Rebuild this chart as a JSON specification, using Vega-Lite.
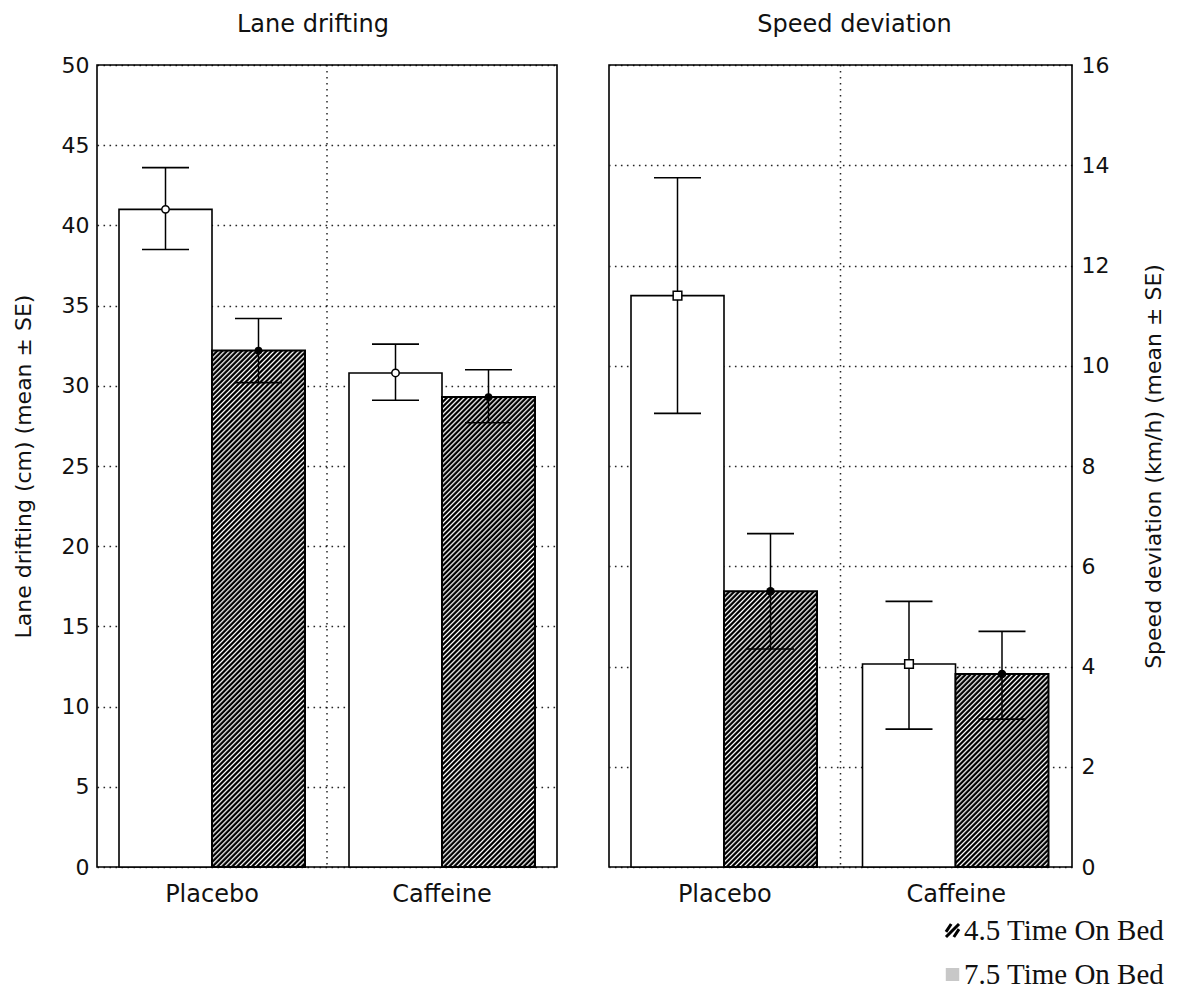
{
  "$schema": "https://vega.github.io/schema/vega-lite/v6.json",
  "background": "white",
  "padding": {"left": 11, "top": 12, "right": 0, "bottom": 0},
  "params": [
    {
      "name": "hatch",
      "value": [
        {"offset":0,"color":"#000"},{"offset":0.0024,"color":"#000"},{"offset":0.0048,"color":"#fff"},{"offset":0.008,"color":"#000"},{"offset":0.0104,"color":"#000"},{"offset":0.0128,"color":"#fff"},{"offset":0.016,"color":"#000"},{"offset":0.0184,"color":"#000"},{"offset":0.0208,"color":"#fff"},{"offset":0.024,"color":"#000"},{"offset":0.0264,"color":"#000"},{"offset":0.0288,"color":"#fff"},{"offset":0.032,"color":"#000"},{"offset":0.0344,"color":"#000"},{"offset":0.0368,"color":"#fff"},
        {"offset":0.04,"color":"#000"},{"offset":0.0424,"color":"#000"},{"offset":0.0448,"color":"#fff"},{"offset":0.048,"color":"#000"},{"offset":0.0504,"color":"#000"},{"offset":0.0528,"color":"#fff"},{"offset":0.056,"color":"#000"},{"offset":0.0584,"color":"#000"},{"offset":0.0608,"color":"#fff"},{"offset":0.064,"color":"#000"},{"offset":0.0664,"color":"#000"},{"offset":0.0688,"color":"#fff"},{"offset":0.072,"color":"#000"},{"offset":0.0744,"color":"#000"},{"offset":0.0768,"color":"#fff"},
        {"offset":0.08,"color":"#000"},{"offset":0.0824,"color":"#000"},{"offset":0.0848,"color":"#fff"},{"offset":0.088,"color":"#000"},{"offset":0.0904,"color":"#000"},{"offset":0.0928,"color":"#fff"},{"offset":0.096,"color":"#000"},{"offset":0.0984,"color":"#000"},{"offset":0.1008,"color":"#fff"},{"offset":0.104,"color":"#000"},{"offset":0.1064,"color":"#000"},{"offset":0.1088,"color":"#fff"},{"offset":0.112,"color":"#000"},{"offset":0.1144,"color":"#000"},{"offset":0.1168,"color":"#fff"},
        {"offset":0.12,"color":"#000"},{"offset":0.1224,"color":"#000"},{"offset":0.1248,"color":"#fff"},{"offset":0.128,"color":"#000"},{"offset":0.1304,"color":"#000"},{"offset":0.1328,"color":"#fff"},{"offset":0.136,"color":"#000"},{"offset":0.1384,"color":"#000"},{"offset":0.1408,"color":"#fff"},{"offset":0.144,"color":"#000"},{"offset":0.1464,"color":"#000"},{"offset":0.1488,"color":"#fff"},{"offset":0.152,"color":"#000"},{"offset":0.1544,"color":"#000"},{"offset":0.1568,"color":"#fff"},
        {"offset":0.16,"color":"#000"},{"offset":0.1624,"color":"#000"},{"offset":0.1648,"color":"#fff"},{"offset":0.168,"color":"#000"},{"offset":0.1704,"color":"#000"},{"offset":0.1728,"color":"#fff"},{"offset":0.176,"color":"#000"},{"offset":0.1784,"color":"#000"},{"offset":0.1808,"color":"#fff"},{"offset":0.184,"color":"#000"},{"offset":0.1864,"color":"#000"},{"offset":0.1888,"color":"#fff"},{"offset":0.192,"color":"#000"},{"offset":0.1944,"color":"#000"},{"offset":0.1968,"color":"#fff"},
        {"offset":0.2,"color":"#000"},{"offset":0.2024,"color":"#000"},{"offset":0.2048,"color":"#fff"},{"offset":0.208,"color":"#000"},{"offset":0.2104,"color":"#000"},{"offset":0.2128,"color":"#fff"},{"offset":0.216,"color":"#000"},{"offset":0.2184,"color":"#000"},{"offset":0.2208,"color":"#fff"},{"offset":0.224,"color":"#000"},{"offset":0.2264,"color":"#000"},{"offset":0.2288,"color":"#fff"},{"offset":0.232,"color":"#000"},{"offset":0.2344,"color":"#000"},{"offset":0.2368,"color":"#fff"},
        {"offset":0.24,"color":"#000"},{"offset":0.2424,"color":"#000"},{"offset":0.2448,"color":"#fff"},{"offset":0.248,"color":"#000"},{"offset":0.2504,"color":"#000"},{"offset":0.2528,"color":"#fff"},{"offset":0.256,"color":"#000"},{"offset":0.2584,"color":"#000"},{"offset":0.2608,"color":"#fff"},{"offset":0.264,"color":"#000"},{"offset":0.2664,"color":"#000"},{"offset":0.2688,"color":"#fff"},{"offset":0.272,"color":"#000"},{"offset":0.2744,"color":"#000"},{"offset":0.2768,"color":"#fff"},
        {"offset":0.28,"color":"#000"},{"offset":0.2824,"color":"#000"},{"offset":0.2848,"color":"#fff"},{"offset":0.288,"color":"#000"},{"offset":0.2904,"color":"#000"},{"offset":0.2928,"color":"#fff"},{"offset":0.296,"color":"#000"},{"offset":0.2984,"color":"#000"},{"offset":0.3008,"color":"#fff"},{"offset":0.304,"color":"#000"},{"offset":0.3064,"color":"#000"},{"offset":0.3088,"color":"#fff"},{"offset":0.312,"color":"#000"},{"offset":0.3144,"color":"#000"},{"offset":0.3168,"color":"#fff"},
        {"offset":0.32,"color":"#000"},{"offset":0.3224,"color":"#000"},{"offset":0.3248,"color":"#fff"},{"offset":0.328,"color":"#000"},{"offset":0.3304,"color":"#000"},{"offset":0.3328,"color":"#fff"},{"offset":0.336,"color":"#000"},{"offset":0.3384,"color":"#000"},{"offset":0.3408,"color":"#fff"},{"offset":0.344,"color":"#000"},{"offset":0.3464,"color":"#000"},{"offset":0.3488,"color":"#fff"},{"offset":0.352,"color":"#000"},{"offset":0.3544,"color":"#000"},{"offset":0.3568,"color":"#fff"},
        {"offset":0.36,"color":"#000"},{"offset":0.3624,"color":"#000"},{"offset":0.3648,"color":"#fff"},{"offset":0.368,"color":"#000"},{"offset":0.3704,"color":"#000"},{"offset":0.3728,"color":"#fff"},{"offset":0.376,"color":"#000"},{"offset":0.3784,"color":"#000"},{"offset":0.3808,"color":"#fff"},{"offset":0.384,"color":"#000"},{"offset":0.3864,"color":"#000"},{"offset":0.3888,"color":"#fff"},{"offset":0.392,"color":"#000"},{"offset":0.3944,"color":"#000"},{"offset":0.3968,"color":"#fff"},
        {"offset":0.4,"color":"#000"},{"offset":0.4024,"color":"#000"},{"offset":0.4048,"color":"#fff"},{"offset":0.408,"color":"#000"},{"offset":0.4104,"color":"#000"},{"offset":0.4128,"color":"#fff"},{"offset":0.416,"color":"#000"},{"offset":0.4184,"color":"#000"},{"offset":0.4208,"color":"#fff"},{"offset":0.424,"color":"#000"},{"offset":0.4264,"color":"#000"},{"offset":0.4288,"color":"#fff"},{"offset":0.432,"color":"#000"},{"offset":0.4344,"color":"#000"},{"offset":0.4368,"color":"#fff"},
        {"offset":0.44,"color":"#000"},{"offset":0.4424,"color":"#000"},{"offset":0.4448,"color":"#fff"},{"offset":0.448,"color":"#000"},{"offset":0.4504,"color":"#000"},{"offset":0.4528,"color":"#fff"},{"offset":0.456,"color":"#000"},{"offset":0.4584,"color":"#000"},{"offset":0.4608,"color":"#fff"},{"offset":0.464,"color":"#000"},{"offset":0.4664,"color":"#000"},{"offset":0.4688,"color":"#fff"},{"offset":0.472,"color":"#000"},{"offset":0.4744,"color":"#000"},{"offset":0.4768,"color":"#fff"},
        {"offset":0.48,"color":"#000"},{"offset":0.4824,"color":"#000"},{"offset":0.4848,"color":"#fff"},{"offset":0.488,"color":"#000"},{"offset":0.4904,"color":"#000"},{"offset":0.4928,"color":"#fff"},{"offset":0.496,"color":"#000"},{"offset":0.4984,"color":"#000"},{"offset":0.5008,"color":"#fff"},{"offset":0.504,"color":"#000"},{"offset":0.5064,"color":"#000"},{"offset":0.5088,"color":"#fff"},{"offset":0.512,"color":"#000"},{"offset":0.5144,"color":"#000"},{"offset":0.5168,"color":"#fff"},
        {"offset":0.52,"color":"#000"},{"offset":0.5224,"color":"#000"},{"offset":0.5248,"color":"#fff"},{"offset":0.528,"color":"#000"},{"offset":0.5304,"color":"#000"},{"offset":0.5328,"color":"#fff"},{"offset":0.536,"color":"#000"},{"offset":0.5384,"color":"#000"},{"offset":0.5408,"color":"#fff"},{"offset":0.544,"color":"#000"},{"offset":0.5464,"color":"#000"},{"offset":0.5488,"color":"#fff"},{"offset":0.552,"color":"#000"},{"offset":0.5544,"color":"#000"},{"offset":0.5568,"color":"#fff"},
        {"offset":0.56,"color":"#000"},{"offset":0.5624,"color":"#000"},{"offset":0.5648,"color":"#fff"},{"offset":0.568,"color":"#000"},{"offset":0.5704,"color":"#000"},{"offset":0.5728,"color":"#fff"},{"offset":0.576,"color":"#000"},{"offset":0.5784,"color":"#000"},{"offset":0.5808,"color":"#fff"},{"offset":0.584,"color":"#000"},{"offset":0.5864,"color":"#000"},{"offset":0.5888,"color":"#fff"},{"offset":0.592,"color":"#000"},{"offset":0.5944,"color":"#000"},{"offset":0.5968,"color":"#fff"},
        {"offset":0.6,"color":"#000"},{"offset":0.6024,"color":"#000"},{"offset":0.6048,"color":"#fff"},{"offset":0.608,"color":"#000"},{"offset":0.6104,"color":"#000"},{"offset":0.6128,"color":"#fff"},{"offset":0.616,"color":"#000"},{"offset":0.6184,"color":"#000"},{"offset":0.6208,"color":"#fff"},{"offset":0.624,"color":"#000"},{"offset":0.6264,"color":"#000"},{"offset":0.6288,"color":"#fff"},{"offset":0.632,"color":"#000"},{"offset":0.6344,"color":"#000"},{"offset":0.6368,"color":"#fff"},
        {"offset":0.64,"color":"#000"},{"offset":0.6424,"color":"#000"},{"offset":0.6448,"color":"#fff"},{"offset":0.648,"color":"#000"},{"offset":0.6504,"color":"#000"},{"offset":0.6528,"color":"#fff"},{"offset":0.656,"color":"#000"},{"offset":0.6584,"color":"#000"},{"offset":0.6608,"color":"#fff"},{"offset":0.664,"color":"#000"},{"offset":0.6664,"color":"#000"},{"offset":0.6688,"color":"#fff"},{"offset":0.672,"color":"#000"},{"offset":0.6744,"color":"#000"},{"offset":0.6768,"color":"#fff"},
        {"offset":0.68,"color":"#000"},{"offset":0.6824,"color":"#000"},{"offset":0.6848,"color":"#fff"},{"offset":0.688,"color":"#000"},{"offset":0.6904,"color":"#000"},{"offset":0.6928,"color":"#fff"},{"offset":0.696,"color":"#000"},{"offset":0.6984,"color":"#000"},{"offset":0.7008,"color":"#fff"},{"offset":0.704,"color":"#000"},{"offset":0.7064,"color":"#000"},{"offset":0.7088,"color":"#fff"},{"offset":0.712,"color":"#000"},{"offset":0.7144,"color":"#000"},{"offset":0.7168,"color":"#fff"},
        {"offset":0.72,"color":"#000"},{"offset":0.7224,"color":"#000"},{"offset":0.7248,"color":"#fff"},{"offset":0.728,"color":"#000"},{"offset":0.7304,"color":"#000"},{"offset":0.7328,"color":"#fff"},{"offset":0.736,"color":"#000"},{"offset":0.7384,"color":"#000"},{"offset":0.7408,"color":"#fff"},{"offset":0.744,"color":"#000"},{"offset":0.7464,"color":"#000"},{"offset":0.7488,"color":"#fff"},{"offset":0.752,"color":"#000"},{"offset":0.7544,"color":"#000"},{"offset":0.7568,"color":"#fff"},
        {"offset":0.76,"color":"#000"},{"offset":0.7624,"color":"#000"},{"offset":0.7648,"color":"#fff"},{"offset":0.768,"color":"#000"},{"offset":0.7704,"color":"#000"},{"offset":0.7728,"color":"#fff"},{"offset":0.776,"color":"#000"},{"offset":0.7784,"color":"#000"},{"offset":0.7808,"color":"#fff"},{"offset":0.784,"color":"#000"},{"offset":0.7864,"color":"#000"},{"offset":0.7888,"color":"#fff"},{"offset":0.792,"color":"#000"},{"offset":0.7944,"color":"#000"},{"offset":0.7968,"color":"#fff"},
        {"offset":0.8,"color":"#000"},{"offset":0.8024,"color":"#000"},{"offset":0.8048,"color":"#fff"},{"offset":0.808,"color":"#000"},{"offset":0.8104,"color":"#000"},{"offset":0.8128,"color":"#fff"},{"offset":0.816,"color":"#000"},{"offset":0.8184,"color":"#000"},{"offset":0.8208,"color":"#fff"},{"offset":0.824,"color":"#000"},{"offset":0.8264,"color":"#000"},{"offset":0.8288,"color":"#fff"},{"offset":0.832,"color":"#000"},{"offset":0.8344,"color":"#000"},{"offset":0.8368,"color":"#fff"},
        {"offset":0.84,"color":"#000"},{"offset":0.8424,"color":"#000"},{"offset":0.8448,"color":"#fff"},{"offset":0.848,"color":"#000"},{"offset":0.8504,"color":"#000"},{"offset":0.8528,"color":"#fff"},{"offset":0.856,"color":"#000"},{"offset":0.8584,"color":"#000"},{"offset":0.8608,"color":"#fff"},{"offset":0.864,"color":"#000"},{"offset":0.8664,"color":"#000"},{"offset":0.8688,"color":"#fff"},{"offset":0.872,"color":"#000"},{"offset":0.8744,"color":"#000"},{"offset":0.8768,"color":"#fff"},
        {"offset":0.88,"color":"#000"},{"offset":0.8824,"color":"#000"},{"offset":0.8848,"color":"#fff"},{"offset":0.888,"color":"#000"},{"offset":0.8904,"color":"#000"},{"offset":0.8928,"color":"#fff"},{"offset":0.896,"color":"#000"},{"offset":0.8984,"color":"#000"},{"offset":0.9008,"color":"#fff"},{"offset":0.904,"color":"#000"},{"offset":0.9064,"color":"#000"},{"offset":0.9088,"color":"#fff"},{"offset":0.912,"color":"#000"},{"offset":0.9144,"color":"#000"},{"offset":0.9168,"color":"#fff"},
        {"offset":0.92,"color":"#000"},{"offset":0.9224,"color":"#000"},{"offset":0.9248,"color":"#fff"},{"offset":0.928,"color":"#000"},{"offset":0.9304,"color":"#000"},{"offset":0.9328,"color":"#fff"},{"offset":0.936,"color":"#000"},{"offset":0.9384,"color":"#000"},{"offset":0.9408,"color":"#fff"},{"offset":0.944,"color":"#000"},{"offset":0.9464,"color":"#000"},{"offset":0.9488,"color":"#fff"},{"offset":0.952,"color":"#000"},{"offset":0.9544,"color":"#000"},{"offset":0.9568,"color":"#fff"},
        {"offset":0.96,"color":"#000"},{"offset":0.9624,"color":"#000"},{"offset":0.9648,"color":"#fff"},{"offset":0.968,"color":"#000"},{"offset":0.9704,"color":"#000"},{"offset":0.9728,"color":"#fff"},{"offset":0.976,"color":"#000"},{"offset":0.9784,"color":"#000"},{"offset":0.9808,"color":"#fff"},{"offset":0.984,"color":"#000"},{"offset":0.9864,"color":"#000"},{"offset":0.9888,"color":"#fff"},{"offset":0.992,"color":"#000"},{"offset":0.9944,"color":"#000"},{"offset":0.9968,"color":"#fff"},
        {"offset":1,"color":"#000"}
      ]
    }
  ],
  "config": {
    "font": "DejaVu Sans",
    "view": {"stroke": "#000", "strokeWidth": 1.6},
    "axis": {
      "labelFont": "DejaVu Sans",
      "labelColor": "#111",
      "titleFont": "DejaVu Sans",
      "titleFontWeight": "normal",
      "titleColor": "#111",
      "ticks": false,
      "domain": false,
      "gridColor": "#000",
      "gridDash": [1.6, 4.4],
      "gridWidth": 1.5,
      "gridOpacity": 0.85
    }
  },
  "spacing": 50,
  "resolve": {
    "scale": {"shape": "independent", "stroke": "independent"},
    "legend": {"shape": "independent", "stroke": "independent"}
  },
  "hconcat": [
    {
      "width": 460,
      "height": 802,
      "title": {"text": "Lane drifting", "font": "DejaVu Sans", "fontSize": 24, "fontWeight": "normal", "color": "#111", "frame": "group", "dx": -14, "offset": 17},
      "data": {
        "values": [
          {"treatment": "Placebo", "tob": "7.5", "mean": 41.0, "lo": 38.5, "hi": 43.6},
          {"treatment": "Placebo", "tob": "4.5", "mean": 32.2, "lo": 30.2, "hi": 34.2},
          {"treatment": "Caffeine", "tob": "7.5", "mean": 30.8, "lo": 29.1, "hi": 32.6},
          {"treatment": "Caffeine", "tob": "4.5", "mean": 29.3, "lo": 27.7, "hi": 31.0}
        ]
      },
      "encoding": {
        "x": {
          "field": "treatment",
          "type": "nominal",
          "scale": {"domain": ["Placebo", "Caffeine"], "paddingInner": 0, "paddingOuter": 0},
          "axis": {"title": null, "labelAngle": 0, "labelFontSize": 24, "labelPadding": 15, "grid": false}
        },
        "xOffset": {
          "field": "tob",
          "type": "nominal",
          "scale": {"domain": ["7.5", "4.5"], "paddingInner": 0, "paddingOuter": 0.2366}
        }
      },
      "layer": [
        {
          "transform": [{"filter": "datum.tob === '7.5'"}],
          "mark": {"type": "bar", "fill": "#fff", "stroke": "#000", "strokeWidth": 1.6},
          "encoding": {
            "y": {
              "field": "mean",
              "type": "quantitative",
              "title": "Lane drifting (cm) (mean ± SE)",
              "scale": {"domain": [0, 50], "nice": false},
              "axis": {"values": [0, 5, 10, 15, 20, 25, 30, 35, 40, 45, 50], "labelFontSize": 22, "labelPadding": 8, "titleFontSize": 22, "titlePadding": 26, "grid": true}
            }
          }
        },
        {
          "transform": [{"filter": "datum.tob === '4.5' && datum.treatment === 'Placebo'"}],
          "mark": {"type": "bar", "fill": {"expr": "{gradient: 'linear', x1: 0, y1: 0, x2: 0.2094, y2: 1.1627, stops: hatch}"}, "stroke": "#000", "strokeWidth": 2},
          "encoding": {"y": {"field": "mean", "type": "quantitative", "title": "Lane drifting (cm) (mean ± SE)"}}
        },
        {
          "transform": [{"filter": "datum.tob === '4.5' && datum.treatment === 'Caffeine'"}],
          "mark": {"type": "bar", "fill": {"expr": "{gradient: 'linear', x1: 0, y1: 0, x2: 0.2512, y2: 1.2695, stops: hatch}"}, "stroke": "#000", "strokeWidth": 2},
          "encoding": {"y": {"field": "mean", "type": "quantitative", "title": "Lane drifting (cm) (mean ± SE)"}}
        },
        {
          "mark": {"type": "rule", "color": "#000", "strokeWidth": 1.5},
          "encoding": {
            "y": {"field": "lo", "type": "quantitative", "title": "Lane drifting (cm) (mean ± SE)"},
            "y2": {"field": "hi"}
          }
        },
        {
          "mark": {"type": "tick", "color": "#000", "opacity": 1, "size": 47, "thickness": 1.6},
          "encoding": {"y": {"field": "lo", "type": "quantitative", "title": "Lane drifting (cm) (mean ± SE)"}}
        },
        {
          "mark": {"type": "tick", "color": "#000", "opacity": 1, "size": 47, "thickness": 1.6},
          "encoding": {"y": {"field": "hi", "type": "quantitative", "title": "Lane drifting (cm) (mean ± SE)"}}
        },
        {
          "transform": [{"filter": "datum.tob === '7.5'"}],
          "mark": {"type": "point", "shape": "circle", "size": 55, "filled": true, "fill": "#fff", "stroke": "#000", "strokeWidth": 1.5, "opacity": 1},
          "encoding": {"y": {"field": "mean", "type": "quantitative", "title": "Lane drifting (cm) (mean ± SE)"}}
        },
        {
          "transform": [{"filter": "datum.tob === '4.5'"}],
          "mark": {"type": "point", "shape": "circle", "size": 60, "filled": true, "color": "#000", "opacity": 1},
          "encoding": {"y": {"field": "mean", "type": "quantitative", "title": "Lane drifting (cm) (mean ± SE)"}}
        },
        {
          "data": {"values": [{"treatment": "Caffeine"}]},
          "mark": {"type": "rule", "color": "#000", "strokeDash": [1.6, 4.4], "strokeWidth": 1.5, "opacity": 0.85},
          "encoding": {
            "x": {"field": "treatment", "type": "nominal", "bandPosition": 0},
            "xOffset": {"value": 0}
          }
        }
      ]
    },
    {
      "width": 463,
      "height": 802,
      "title": {"text": "Speed deviation", "font": "DejaVu Sans", "fontSize": 24, "fontWeight": "normal", "color": "#111", "frame": "group", "dx": 14, "offset": 17},
      "data": {
        "values": [
          {"treatment": "Placebo", "tob": "7.5", "mean": 11.4, "lo": 9.05, "hi": 13.75},
          {"treatment": "Placebo", "tob": "4.5", "mean": 5.5, "lo": 4.35, "hi": 6.65},
          {"treatment": "Caffeine", "tob": "7.5", "mean": 4.05, "lo": 2.75, "hi": 5.3},
          {"treatment": "Caffeine", "tob": "4.5", "mean": 3.85, "lo": 2.95, "hi": 4.7}
        ]
      },
      "encoding": {
        "x": {
          "field": "treatment",
          "type": "nominal",
          "scale": {"domain": ["Placebo", "Caffeine"], "paddingInner": 0, "paddingOuter": 0},
          "axis": {"title": null, "labelAngle": 0, "labelFontSize": 24, "labelPadding": 15, "grid": false}
        },
        "xOffset": {
          "field": "tob",
          "type": "nominal",
          "scale": {"domain": ["7.5", "4.5"], "paddingInner": 0, "paddingOuter": 0.2446}
        }
      },
      "layer": [
        {
          "transform": [{"filter": "datum.tob === '7.5'"}],
          "mark": {"type": "bar", "fill": "#fff", "stroke": "#000", "strokeWidth": 1.6},
          "encoding": {
            "y": {
              "field": "mean",
              "type": "quantitative",
              "title": "Speed deviation (km/h) (mean ± SE)",
              "scale": {"domain": [0, 16], "nice": false},
              "axis": {"orient": "right", "values": [0, 2, 4, 6, 8, 10, 12, 14, 16], "labelFontSize": 22, "labelPadding": 9, "titleFontSize": 22, "titlePadding": 35, "titleAngle": 270, "titleBaseline": "top", "grid": true}
            }
          }
        },
        {
          "transform": [{"filter": "datum.tob === '4.5' && datum.treatment === 'Placebo'"}],
          "mark": {"type": "bar", "fill": {"expr": "{gradient: 'linear', x1: 0, y1: 0, x2: 0.6811, y2: 2.0191, stops: hatch}"}, "stroke": "#000", "strokeWidth": 2},
          "encoding": {"y": {"field": "mean", "type": "quantitative", "title": "Speed deviation (km/h) (mean ± SE)"}}
        },
        {
          "transform": [{"filter": "datum.tob === '4.5' && datum.treatment === 'Caffeine'"}],
          "mark": {"type": "bar", "fill": {"expr": "{gradient: 'linear', x1: 0, y1: 0, x2: 1.2563, y2: 2.6071, stops: hatch}"}, "stroke": "#000", "strokeWidth": 2},
          "encoding": {"y": {"field": "mean", "type": "quantitative", "title": "Speed deviation (km/h) (mean ± SE)"}}
        },
        {
          "mark": {"type": "rule", "color": "#000", "strokeWidth": 1.5},
          "encoding": {
            "y": {"field": "lo", "type": "quantitative", "title": "Speed deviation (km/h) (mean ± SE)"},
            "y2": {"field": "hi"}
          }
        },
        {
          "mark": {"type": "tick", "color": "#000", "opacity": 1, "size": 47, "thickness": 1.6},
          "encoding": {"y": {"field": "lo", "type": "quantitative", "title": "Speed deviation (km/h) (mean ± SE)"}}
        },
        {
          "mark": {"type": "tick", "color": "#000", "opacity": 1, "size": 47, "thickness": 1.6},
          "encoding": {"y": {"field": "hi", "type": "quantitative", "title": "Speed deviation (km/h) (mean ± SE)"}}
        },
        {
          "transform": [{"filter": "datum.tob === '7.5'"}],
          "mark": {"type": "point", "shape": "square", "size": 75, "filled": true, "fill": "#fff", "stroke": "#000", "strokeWidth": 1.5, "opacity": 1},
          "encoding": {"y": {"field": "mean", "type": "quantitative", "title": "Speed deviation (km/h) (mean ± SE)"}}
        },
        {
          "transform": [{"filter": "datum.tob === '4.5'"}],
          "mark": {"type": "point", "shape": "circle", "size": 75, "filled": true, "color": "#000", "opacity": 1},
          "encoding": {"y": {"field": "mean", "type": "quantitative", "title": "Speed deviation (km/h) (mean ± SE)"}}
        },
        {
          "data": {"values": [{"treatment": "Caffeine"}]},
          "mark": {"type": "rule", "color": "#000", "strokeDash": [1.6, 4.4], "strokeWidth": 1.5, "opacity": 0.85},
          "encoding": {
            "x": {"field": "treatment", "type": "nominal", "bandPosition": 0},
            "xOffset": {"value": 0}
          }
        },
        {
          "mark": {"type": "point", "filled": false, "opacity": 0, "size": 1},
          "encoding": {
            "y": {"field": "mean", "type": "quantitative", "title": "Speed deviation (km/h) (mean ± SE)"},
            "shape": {
              "field": "tob",
              "type": "nominal",
              "scale": {
                "domain": ["4.5", "7.5"],
                "range": [
                  "M-1,0.2L-0.2,-1M-1,1L1,-1M0.2,1L1,-0.2",
                  "M-0.8,-1L-0.8,1M-0.4,-1L-0.4,1M0,-1L0,1M0.4,-1L0.4,1M0.8,-1L0.8,1"
                ]
              },
              "legend": {
                "title": null,
                "orient": "none",
                "legendX": 329,
                "legendY": 851,
                "labelExpr": "datum.label + ' Time On Bed'",
                "labelFont": "Liberation Serif",
                "labelFontSize": 29,
                "labelColor": "#111",
                "labelLimit": 0,
                "labelOffset": -3,
                "symbolSize": 170,
                "symbolStrokeWidth": 3,
                "rowPadding": 14
              }
            },
            "stroke": {
              "field": "tob",
              "type": "nominal",
              "scale": {"domain": ["4.5", "7.5"], "range": ["#000", "#c8c8c8"]}
            }
          }
        }
      ]
    }
  ]
}
